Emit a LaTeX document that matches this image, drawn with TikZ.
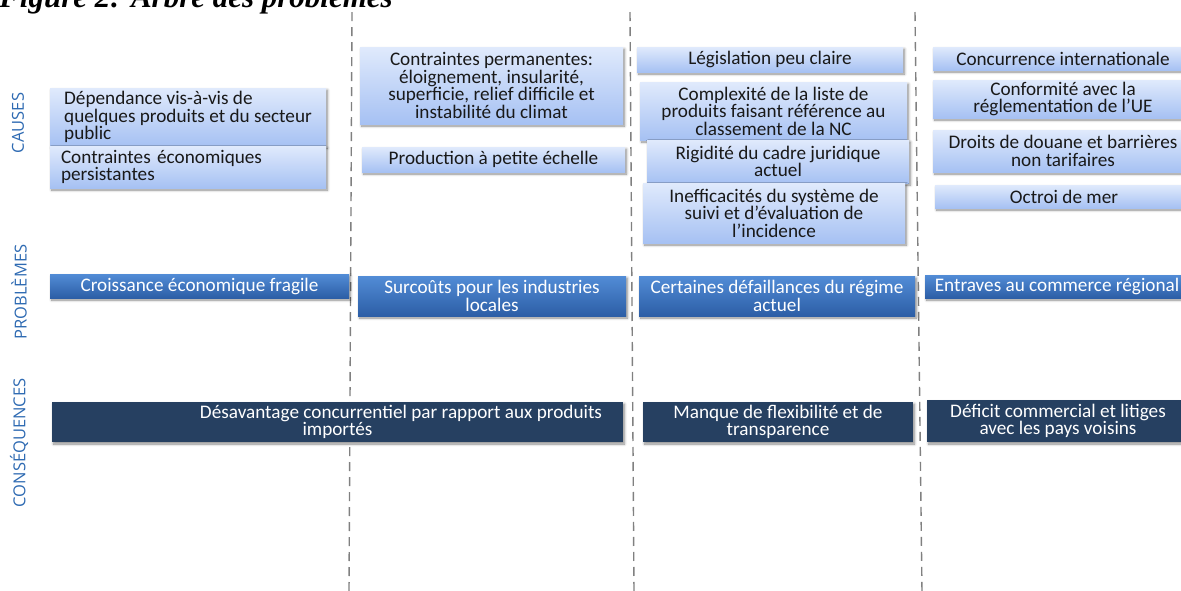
\documentclass[tikz,border=0pt]{standalone}
\usepackage{fontspec}
\setmainfont{Carlito}
\newfontfamily\titlefont{Liberation Serif}
\newfontfamily\labfont{Open Sans}
\usetikzlibrary{shadows.blur}
\definecolor{causetop}{RGB}{224,234,252}
\definecolor{causebot}{RGB}{166,193,243}
\definecolor{probtop}{RGB}{82,140,214}
\definecolor{probbot}{RGB}{44,94,166}
\definecolor{consfill}{RGB}{38,64,97}
\definecolor{labblue}{RGB}{46,106,178}
\definecolor{dashgrey}{RGB}{128,128,128}
\newcommand\bx[7]{\node[#6, minimum width={(#4-#2)*1pt}, minimum height={(#5-#3)*1pt}] (#1) at ({(#2+#4)/2},{(#3+#5)/2}) {#7};}
\begin{document}
\begin{tikzpicture}[x=1pt,y=-1pt,
  base/.style={inner sep=0pt, align=center, font=\fontsize{19.2}{17.4}\selectfont,
    blur shadow={shadow xshift=1.5pt, shadow yshift=-2pt, shadow blur steps=6, shadow blur radius=2.5pt, shadow opacity=45}},
  cause/.style={base, top color=causetop, bottom color=causebot, text=black!90},
  prob/.style={base, top color=probtop, bottom color=probbot, text=white},
  cons/.style={base, fill=consfill, text=white},
  side/.style={font=\labfont\fontsize{16.5}{17}\selectfont, text=labblue, rotate=90, inner sep=0pt},
  divider/.style={draw=dashgrey, line width=1.4pt, dash pattern=on 9pt off 6pt}]
\useasboundingbox (0,0) rectangle (1181,590);
% title (cut at top)
\node[anchor=base east, inner sep=0pt, font=\titlefont\bfseries\itshape\fontsize{31}{31}\selectfont] (title) at (393,7) {Figure 2: Arbre des problèmes};
% dividers
\coordinate (d1t) at (352,12); \coordinate (d1b) at (349,592);
\coordinate (d2t) at (630,12); \coordinate (d2b) at (634,592);
\coordinate (d3t) at (915,12); \coordinate (d3b) at (922,592);
\draw[divider] (d1t) -- (d1b);
\draw[divider] (d2t) -- (d2b);
\draw[divider] (d3t) -- (d3b);
% side labels
\node[side] (lcauses) at (18,123) {CAUSES};
\node[side] (lprob) at (19,292) {PROBLÈMES};
\node[side] (lcons) at (19,443) {CONSÉQUENCES};
% causes
\bx{dep}{50}{88}{326}{146}{cause, align=left}{Dépendance vis-à-vis de\\quelques produits et du secteur\\public}
\bx{ce}{50}{146}{326}{188}{cause, text width=254pt, align=left}{Contraintes économiques\\persistantes}
\bx{cp}{360}{47}{623}{124}{cause}{Contraintes permanentes:\\éloignement, insularité,\\superficie, relief difficile et\\instabilité du climat}
\bx{prod}{362}{147}{625}{172}{cause}{Production à petite échelle}
\bx{leg}{637}{47}{903}{72}{cause}{Législation peu claire}
\bx{comp}{640}{82}{907}{140}{cause}{Complexité de la liste de\\produits faisant référence au\\classement de la NC}
\bx{rig}{647}{140}{909}{183}{cause}{Rigidité du cadre juridique\\actuel}
\bx{ineff}{643}{183}{905}{243}{cause}{Inefficacités du système de\\suivi et d’évaluation de\\l’incidence}
\bx{conc}{933}{47}{1193}{70}{cause}{Concurrence internationale}
\bx{conf}{933}{80}{1193}{118}{cause}{Conformité avec la\\réglementation de l’UE}
\bx{droits}{933}{130}{1193}{172}{cause}{Droits de douane et barrières\\non tarifaires}
\bx{octroi}{935}{185}{1193}{208}{cause}{Octroi de mer}
% problems
\bx{crois}{50}{274}{349}{298}{prob}{Croissance économique fragile}
\bx{surc}{358}{276}{626}{316}{prob}{Surcoûts pour les industries\\locales}
\bx{cert}{639}{276}{915}{316}{prob}{Certaines défaillances du régime\\actuel}
\bx{entr}{925}{275}{1189}{298}{prob}{Entraves au commerce régional}
% consequences
\bx{desav}{52}{402}{623}{442}{cons}{\hspace*{127pt}Désavantage concurrentiel par rapport aux produits\\importés}
\bx{manq}{643}{402}{913}{442}{cons}{Manque de flexibilité et de\\transparence}
\bx{defi}{927}{400}{1189}{442}{cons}{Déficit commercial et litiges\\avec les pays voisins}
\end{tikzpicture}
\end{document}
